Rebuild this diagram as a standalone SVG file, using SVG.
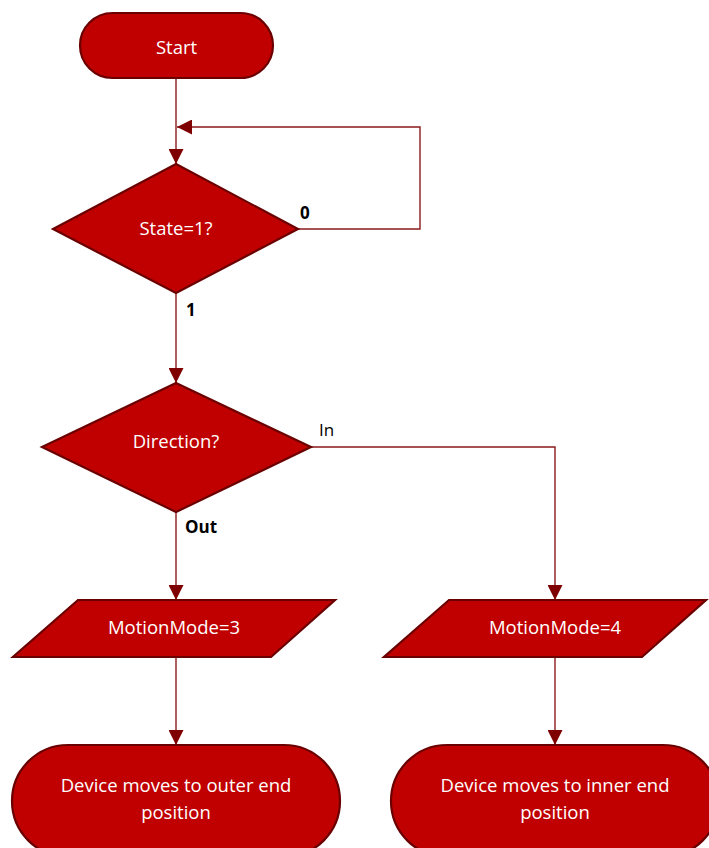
<svg xmlns="http://www.w3.org/2000/svg" width="709" height="848" viewBox="0 0 709 848">
<defs>
<style>
.node{fill:#C00000;stroke:#6B0000;stroke-width:2.2;}
.ntext{font-family:"Open Sans",Lato,sans-serif;font-size:18.5px;fill:#FFFFFF;text-anchor:middle;}
.conn{fill:none;stroke:#8B1A1A;stroke-width:1.4;}
.lbl{font-family:"Open Sans",Lato,sans-serif;font-size:17px;fill:#000000;}
.b{font-weight:bold;}
</style>
<marker id="ahb" viewBox="0 0 14 14" refX="14" refY="7" markerWidth="15" markerHeight="15" markerUnits="userSpaceOnUse" orient="auto">
<path d="M0,0 L14,7 L0,14 Z" fill="#7F0000"/>
</marker>
</defs>
<rect width="709" height="848" fill="#FFFFFF"/>
<g id="connectors">
<path class="conn" d="M176,78 V164" marker-end="url(#ahb)"/>
<path class="conn" d="M298,229 H420 V127 H177" marker-end="url(#ahb)"/>
<path class="conn" d="M176,293 V383" marker-end="url(#ahb)"/>
<path class="conn" d="M311,447 H555 V600" marker-end="url(#ahb)"/>
<path class="conn" d="M176,512 V600" marker-end="url(#ahb)"/>
<path class="conn" d="M176,657 V745" marker-end="url(#ahb)"/>
<path class="conn" d="M555,657 V745" marker-end="url(#ahb)"/>
<text class="lbl b" x="300" y="219">0</text>
<text class="lbl b" x="186" y="316">1</text>
<text class="lbl" x="319" y="436">In</text>
<text class="lbl b" x="185" y="533">Out</text>
</g>
<g id="start">
<rect class="node" x="80" y="13" width="193" height="65" rx="32.5"/>
<text class="ntext" x="176.5" y="54">Start</text>
</g>
<g id="state">
<polygon class="node" points="176,164 298,229 176,293 53,229"/>
<text class="ntext" x="176" y="235">State=1?</text>
</g>
<g id="direction">
<polygon class="node" points="176,383 311,447 176,512 42,447"/>
<text class="ntext" x="176" y="448">Direction?</text>
</g>
<g id="mm3">
<polygon class="node" points="78,600 335,600 271,657 13,657"/>
<text class="ntext" x="174" y="634">MotionMode=3</text>
</g>
<g id="mm4">
<polygon class="node" points="449,600 706,600 642,657 384,657"/>
<text class="ntext" x="555" y="634">MotionMode=4</text>
</g>
<g id="outer">
<rect class="node" x="12" y="745" width="328" height="112" rx="56"/>
<text class="ntext" x="176" y="792">Device moves to outer end</text>
<text class="ntext" x="176" y="819">position</text>
</g>
<g id="inner">
<rect class="node" x="391" y="745" width="328" height="112" rx="56"/>
<text class="ntext" x="555" y="792">Device moves to inner end</text>
<text class="ntext" x="555" y="819">position</text>
</g>
</svg>
